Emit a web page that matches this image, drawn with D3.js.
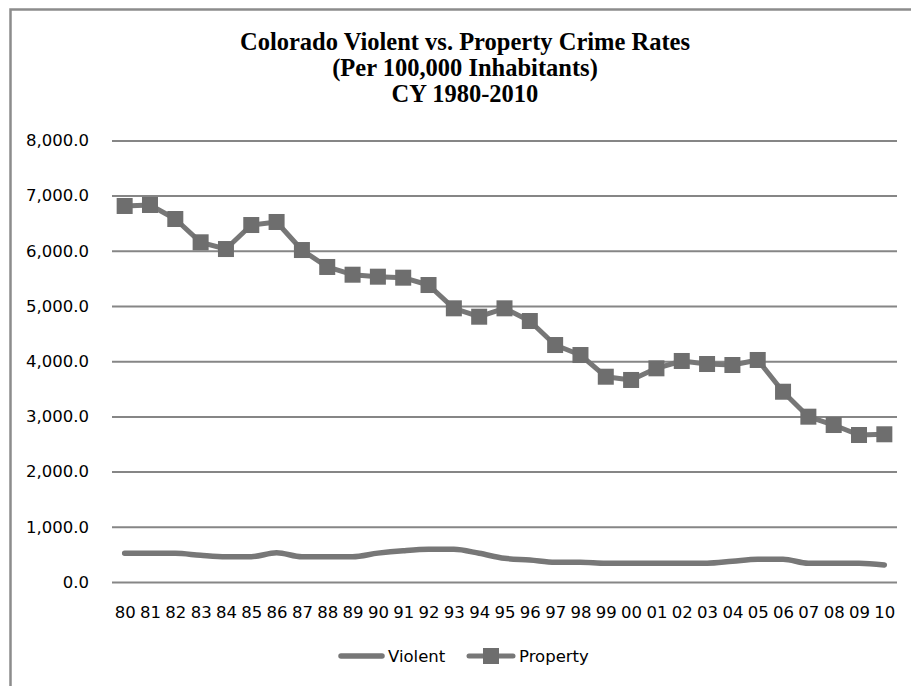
<!DOCTYPE html>
<html>
<head>
<meta charset="utf-8">
<script src="https://cdn.jsdelivr.net/npm/d3@7"></script>
<style>
  body { margin: 0; background: #fff; }
  svg { display: block; }
  .title { font-family: "Liberation Serif", "Times New Roman", serif; font-weight: bold; font-size: 24.5px; fill: #000; }
  .tick text { font-family: "DejaVu Sans", sans-serif; font-size: 16.5px; fill: #000; }
  .legend text { font-family: "DejaVu Sans", sans-serif; font-size: 16.5px; fill: #000; }
</style>
</head>
<body>
<svg id="chart"></svg>
<script>
const width = 911, height = 686;

// data
const years = ["80","81","82","83","84","85","86","87","88","89","90","91","92","93","94","95",
  "96","97","98","99","00","01","02","03","04","05","06","07","08","09","10"];
const violent = [520,520,520,484,459,459,530,459,459,459,523,567,592,592,520,429,
  399,357,357,339,339,339,339,339,375,411,411,339,339,339,308];
const property = [6812,6830,6576,6154,6032,6467,6522,6014,5707,5567,5531,5513,5380,4958,4806,4958,
  4728,4293,4112,3719,3660,3871,4004,3949,3931,4022,3447,2995,2844,2663,2676];
const yTicks = [0,1000,2000,3000,4000,5000,6000,7000,8000];
const titleLines = ["Colorado Violent vs. Property Crime Rates", "(Per 100,000 Inhabitants)", "CY 1980-2010"];

const grey = "#777777";
const gridGrey = "#868686";

let svg = d3.select("#chart").attr("width", width).attr("height", height);

// outer frame (runs off the right / bottom edge)
svg.append("rect")
    .attr("x", 10.5).attr("y", 9.5)
    .attr("width", 1000).attr("height", 1000)
    .attr("fill", "none")
    .attr("stroke", "#8c8c8c")
    .attr("stroke-width", 2.5);

let plot = {left: 112, right: 897, top: 140.4, bottom: 582};

let x = d3.scalePoint().domain(years).range([plot.left, plot.right]).padding(0.5);
let y = d3.scaleLinear().domain([0, 8000]).range([plot.bottom, plot.top]);

// title
svg.append("text")
    .attr("class", "title")
    .attr("text-anchor", "middle")
    .selectAll("tspan")
    .data(titleLines)
    .join("tspan")
    .attr("x", 465)
    .attr("y", (d, i) => 50 + i * 26)
    .text(d => d);

// gridlines + y labels
let yAxis = svg.append("g")
    .attr("transform", `translate(${plot.left},0)`)
    .call(d3.axisLeft(y).tickValues(yTicks).tickSize(-(plot.right - plot.left)).tickPadding(23)
        .tickFormat(d3.format(",.1f")));
yAxis.select(".domain").remove();
yAxis.selectAll(".tick line").attr("stroke", gridGrey).attr("stroke-width", 2);

// x labels
let xAxis = svg.append("g")
    .attr("transform", `translate(0,${plot.bottom})`)
    .call(d3.axisBottom(x).tickSize(0).tickPadding(24));
xAxis.select(".domain").remove();

// lines
svg.append("path")
    .datum(violent)
    .attr("fill", "none")
    .attr("stroke", grey)
    .attr("stroke-width", 5.5)
    .attr("stroke-linejoin", "round")
    .attr("stroke-linecap", "round")
    .attr("d", d3.line().x((d, i) => x(years[i])).y(d => y(d)).curve(d3.curveMonotoneX));

svg.append("path")
    .datum(property)
    .attr("fill", "none")
    .attr("stroke", grey)
    .attr("stroke-width", 5)
    .attr("stroke-linejoin", "round")
    .attr("d", d3.line().x((d, i) => x(years[i])).y(d => y(d)));

svg.append("g")
    .selectAll("rect")
    .data(property)
    .join("rect")
    .attr("x", (d, i) => x(years[i]) - 8)
    .attr("y", d => y(d) - 8)
    .attr("width", 16)
    .attr("height", 16)
    .attr("fill", "#6e6e6e");

// legend
let legend = svg.append("g").attr("class", "legend").attr("transform", "translate(0,656)");
legend.append("line")
    .attr("x1", 341).attr("x2", 382)
    .attr("stroke", grey).attr("stroke-width", 5.5).attr("stroke-linecap", "round");
legend.append("text").attr("x", 388).attr("y", 6).text("Violent");
legend.append("line")
    .attr("x1", 469).attr("x2", 513)
    .attr("stroke", grey).attr("stroke-width", 5).attr("stroke-linecap", "round");
legend.append("rect")
    .attr("x", 483).attr("y", -8).attr("width", 16).attr("height", 16)
    .attr("fill", "#6e6e6e");
legend.append("text").attr("x", 519).attr("y", 6).text("Property");
</script>
</body>
</html>
